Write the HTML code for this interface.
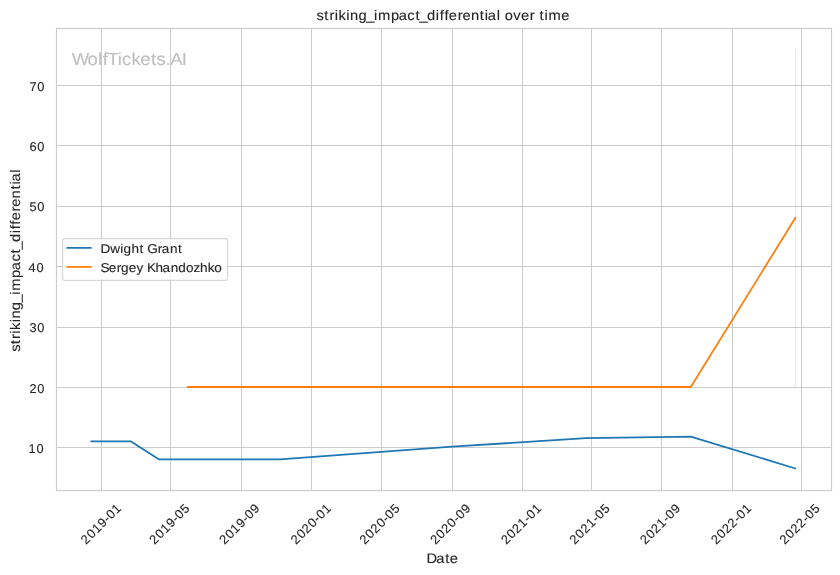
<!DOCTYPE html>
<html><head><meta charset="utf-8"><title>striking_impact_differential over time</title>
<style>
html,body{margin:0;padding:0;background:#fff;overflow:hidden;}
svg{display:block;will-change:transform;}
text{font-family:"Liberation Sans",sans-serif;fill:#262626;text-rendering:geometricPrecision;stroke:#262626;stroke-width:0.12px;}
</style></head><body>
<svg width="840" height="575" viewBox="0 0 840 575">
<rect x="0" y="0" width="840" height="575" fill="#ffffff"/>
<g stroke="#cccccc" stroke-width="1" shape-rendering="crispEdges" fill="none">
<line x1="101.5" y1="28" x2="101.5" y2="491"/>
<line x1="170.5" y1="28" x2="170.5" y2="491"/>
<line x1="241.5" y1="28" x2="241.5" y2="491"/>
<line x1="311.5" y1="28" x2="311.5" y2="491"/>
<line x1="381.5" y1="28" x2="381.5" y2="491"/>
<line x1="452.5" y1="28" x2="452.5" y2="491"/>
<line x1="522.5" y1="28" x2="522.5" y2="491"/>
<line x1="591.5" y1="28" x2="591.5" y2="491"/>
<line x1="661.5" y1="28" x2="661.5" y2="491"/>
<line x1="732.5" y1="28" x2="732.5" y2="491"/>
<line x1="801.5" y1="28" x2="801.5" y2="491"/>
<line x1="56" y1="85.5" x2="832" y2="85.5"/>
<line x1="56" y1="145.5" x2="832" y2="145.5"/>
<line x1="56" y1="206.5" x2="832" y2="206.5"/>
<line x1="56" y1="266.5" x2="832" y2="266.5"/>
<line x1="56" y1="327.5" x2="832" y2="327.5"/>
<line x1="56" y1="387.5" x2="832" y2="387.5"/>
<line x1="56" y1="447.5" x2="832" y2="447.5"/>
</g>
<line x1="795.5" y1="49" x2="795.5" y2="387.5" stroke="#ff7f0e" stroke-opacity="0.2" stroke-width="1.1"/>
<g fill="none" stroke-width="1.8" stroke-linejoin="round" stroke-linecap="round">
<polyline stroke="#1f77b4" points="91.2,441.4 131.0,441.4 159.2,459.4 280.0,459.4 452.0,446.7 586.0,438.2 690.8,436.6 795.4,468.5"/>
<polyline stroke="#ff7f0e" points="187.6,387.0 690.8,387.0 795.4,217.8"/>
</g>
<rect x="56.5" y="28.5" width="775" height="462" fill="none" stroke="#cccccc" stroke-width="1.2"/>
<text transform="scale(1.06,1)" x="67.61 82.52 92.35 96.96 101.36 111.20 115.01 124.07 132.24 142.43 147.75 156.10 160.50 171.52" y="64.9" font-size="17.5" style="fill:#bfbfbf;stroke:#bfbfbf">WolfTickets.AI</text>
<rect x="62.6" y="238.6" width="165" height="41.8" rx="2.4" ry="2.4" fill="#ffffff" fill-opacity="0.8" stroke="#cccccc" stroke-opacity="0.8" stroke-width="1.1"/>
<g stroke-width="1.8" stroke-linecap="round"><line x1="67.2" y1="247.9" x2="91.0" y2="247.9" stroke="#1f77b4"/><line x1="67.2" y1="266.9" x2="91.0" y2="266.9" stroke="#ff7f0e"/></g>
<text transform="scale(1.06,1)" x="94.82 103.99 113.54 116.60 124.00 131.68 135.81 138.93 148.83 152.66 160.34 168.00" y="252.8" font-size="12.8">Dwight Grant</text>
<text transform="scale(1.06,1)" x="94.81 102.67 110.18 114.26 121.53 128.80 135.46 138.79 146.69 153.41 161.05 168.25 175.48 182.44 188.68 196.07 202.15" y="271.8" font-size="12.8">Sergey Khandozhko</text>
<text x="29.54 37.36" y="90.60" font-size="12.8">70</text>
<text x="29.57 37.36" y="150.60" font-size="12.8">60</text>
<text x="29.52 37.36" y="210.60" font-size="12.8">50</text>
<text x="28.62 36.41" y="271.60" font-size="12.8">40</text>
<text x="29.58 37.36" y="331.60" font-size="12.8">30</text>
<text x="29.41 37.36" y="392.60" font-size="12.8">20</text>
<text x="28.55 36.41" y="452.60" font-size="12.8">10</text>
<text transform="translate(100.80,523.90) rotate(-45)" x="-25.30 -17.35 -9.62 -1.80 5.78 10.45 18.18" y="4.45" font-size="12.8">2019-01</text>
<text transform="translate(169.35,523.90) rotate(-45)" x="-25.33 -17.38 -9.65 -1.83 5.75 10.43 18.17" y="4.45" font-size="12.8">2019-05</text>
<text transform="translate(239.35,523.90) rotate(-45)" x="-25.44 -17.48 -9.75 -1.93 5.65 10.32 18.08" y="4.45" font-size="12.8">2019-09</text>
<text transform="translate(310.80,523.90) rotate(-45)" x="-25.30 -17.35 -9.71 -1.76 5.78 10.45 18.18" y="4.45" font-size="12.8">2020-01</text>
<text transform="translate(379.50,523.90) rotate(-45)" x="-25.33 -17.38 -9.74 -1.79 5.75 10.43 18.17" y="4.45" font-size="12.8">2020-05</text>
<text transform="translate(450.30,523.90) rotate(-45)" x="-25.44 -17.48 -9.85 -1.89 5.65 10.32 18.08" y="4.45" font-size="12.8">2020-09</text>
<text transform="translate(520.90,523.90) rotate(-45)" x="-25.30 -17.35 -9.71 -1.82 5.78 10.45 18.18" y="4.45" font-size="12.8">2021-01</text>
<text transform="translate(589.50,523.90) rotate(-45)" x="-25.33 -17.38 -9.74 -1.85 5.75 10.43 18.17" y="4.45" font-size="12.8">2021-05</text>
<text transform="translate(660.10,523.90) rotate(-45)" x="-25.44 -17.48 -9.85 -1.96 5.65 10.32 18.08" y="4.45" font-size="12.8">2021-09</text>
<text transform="translate(730.90,523.90) rotate(-45)" x="-25.30 -17.35 -9.71 -1.92 5.78 10.45 18.18" y="4.45" font-size="12.8">2022-01</text>
<text transform="translate(799.50,523.90) rotate(-45)" x="-25.33 -17.38 -9.74 -1.95 5.75 10.43 18.17" y="4.45" font-size="12.8">2022-05</text>
<text transform="scale(1.06,1)" x="298.67 305.90 310.90 315.84 319.43 326.76 330.25 338.24 345.56 352.82 356.56 368.78 376.16 384.30 391.96 395.77 402.90 411.12 414.89 419.37 423.46 431.76 436.30 444.26 452.67 457.36 460.21 468.70 472.11 476.09 484.15 491.47 499.77 504.56 509.05 513.75 517.49 529.53" y="19.85" font-size="13.9">striking_impact_differential over time</text>
<text transform="scale(1.06,1)" x="402.28 411.46 420.03 424.36" y="562.9" font-size="13.9">Date</text>
<text transform="translate(19.8,351.0) rotate(-90) scale(1.06,1)" x="-0.78 6.42 11.39 16.30 19.86 27.15 30.62 38.55 45.84 53.07 56.76 68.92 76.25 84.34 91.97 95.75 102.83 111.01 114.76 119.22 123.28 131.53 136.04 143.95 152.32 156.99 159.81 168.26" y="0" font-size="13.9">striking_impact_differential</text>
</svg>
</body></html>
